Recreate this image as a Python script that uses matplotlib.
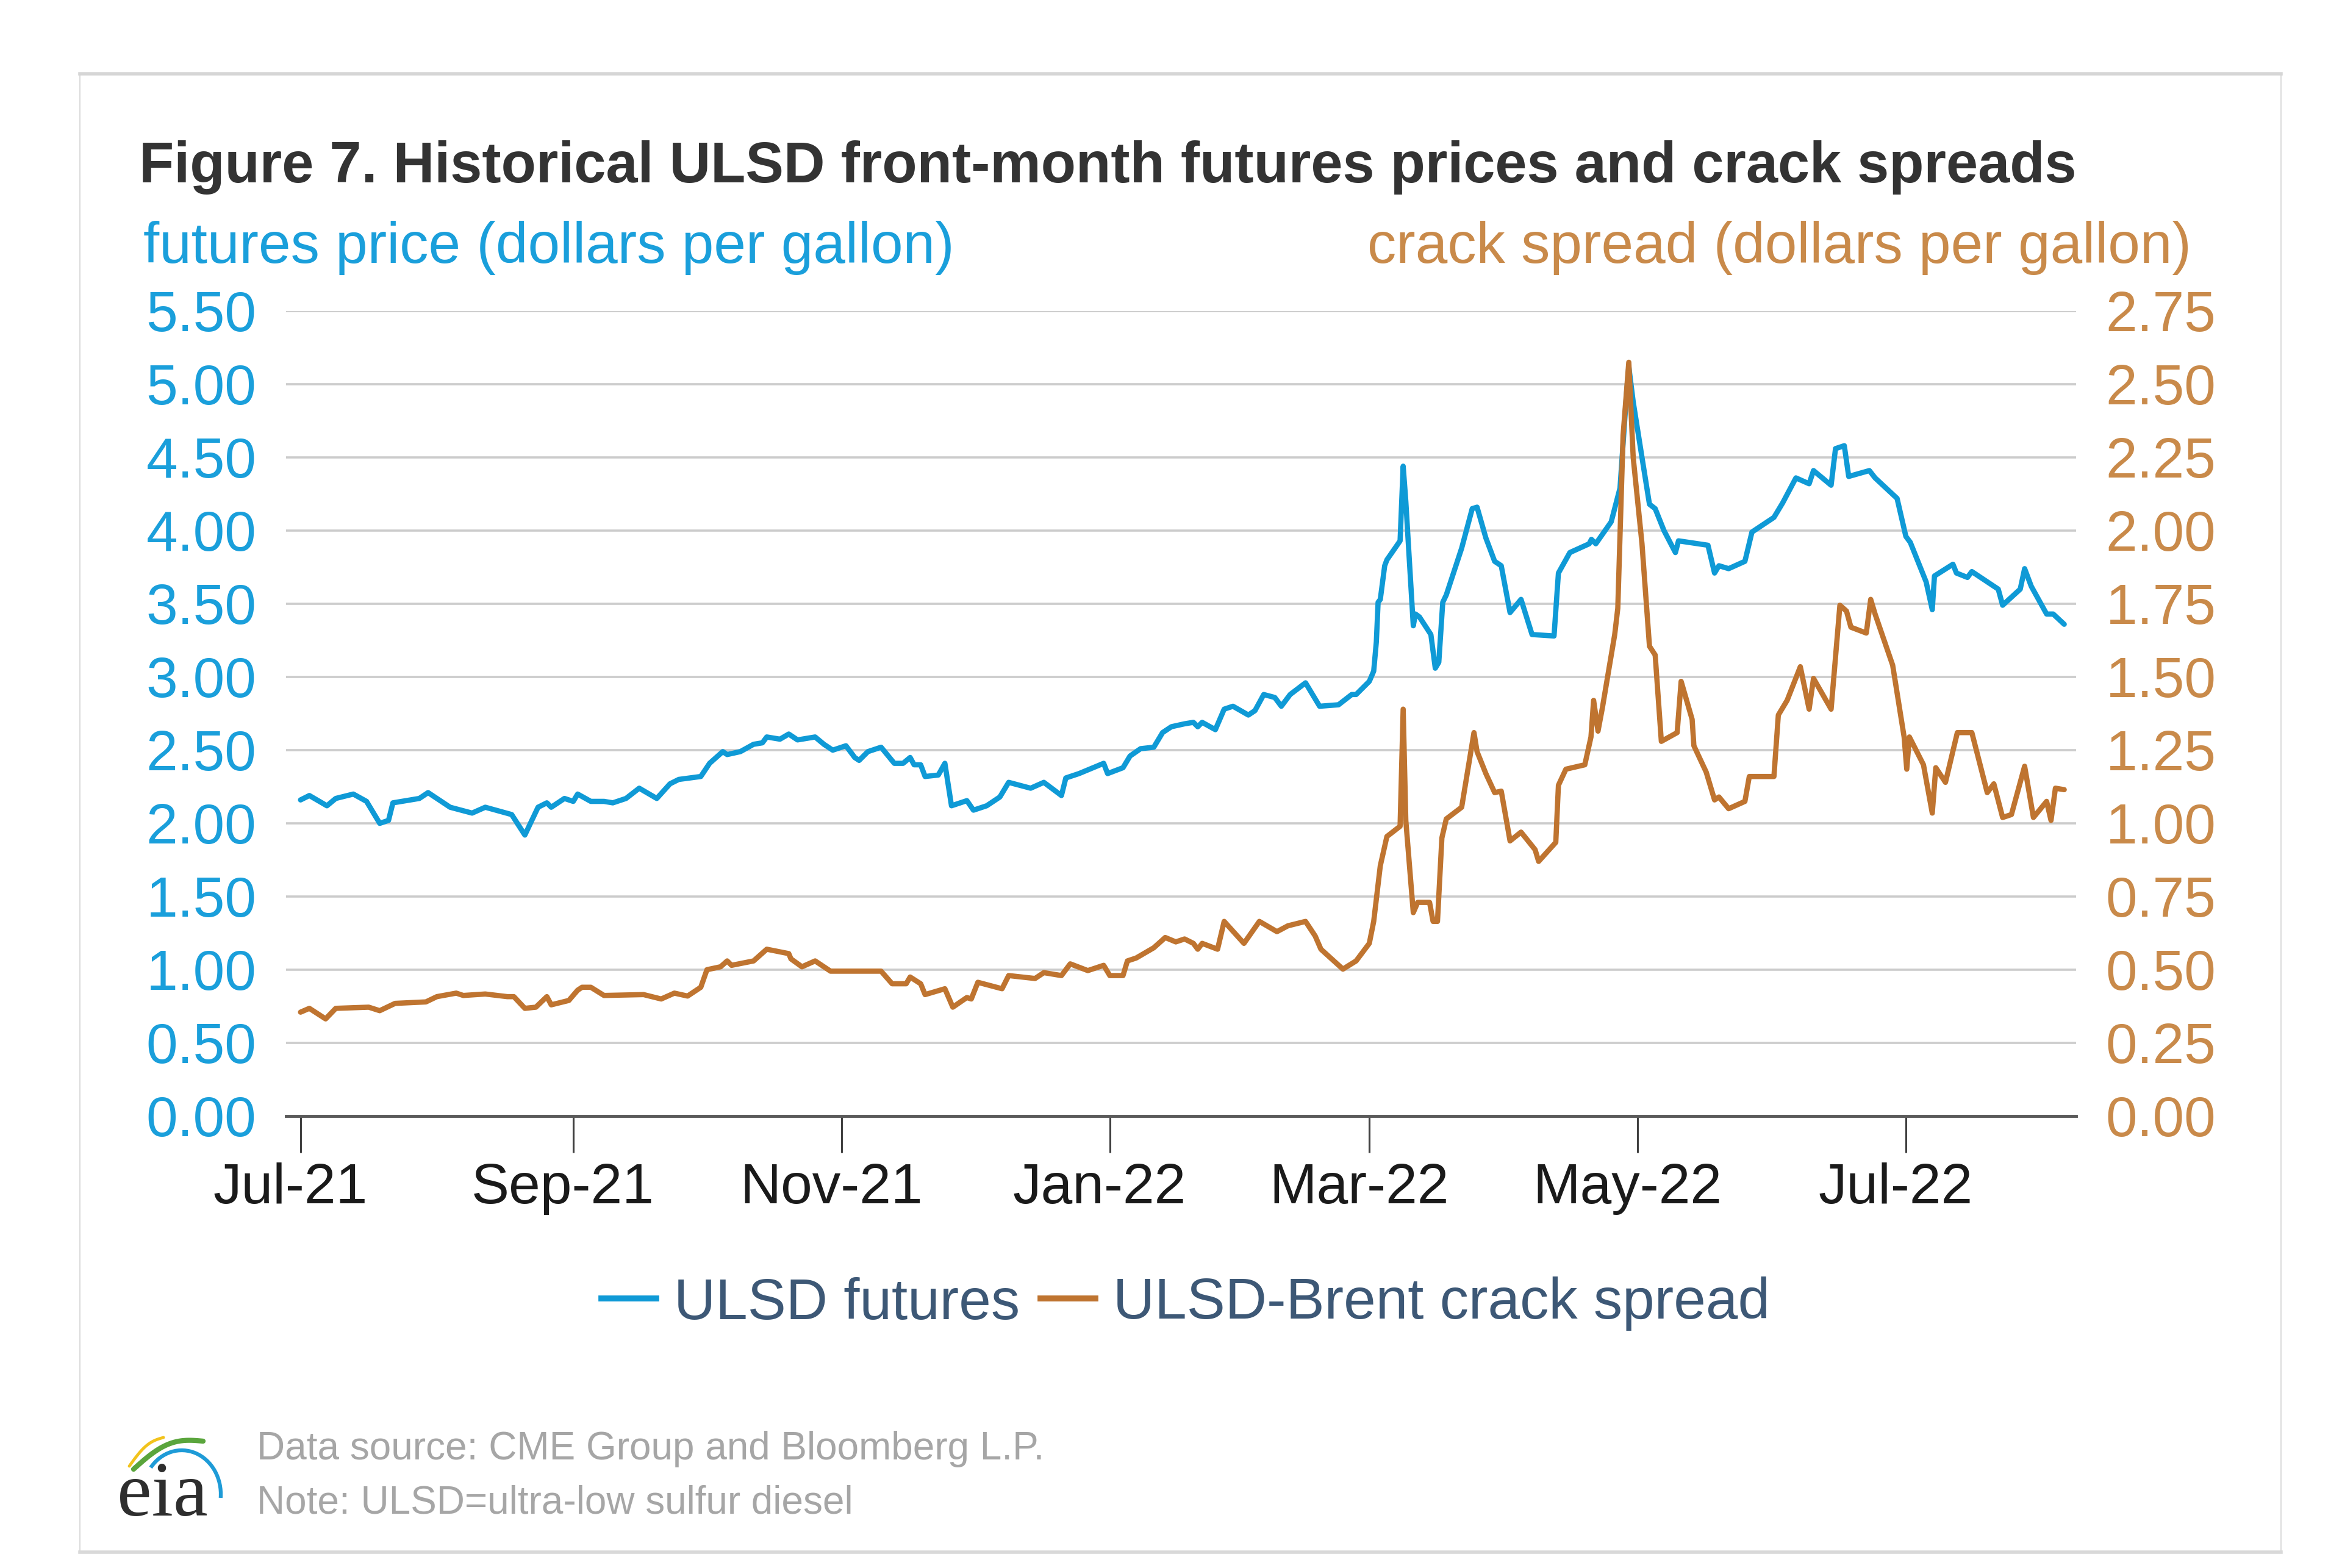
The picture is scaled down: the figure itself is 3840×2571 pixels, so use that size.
import matplotlib
matplotlib.use("Agg")
import matplotlib.pyplot as plt
import matplotlib.dates as mdates
import matplotlib.transforms as mtransforms
from matplotlib.patches import Rectangle, Arc
from matplotlib.lines import Line2D
import pandas as pd
import numpy as np

plt.rcParams['font.family'] = ['Liberation Sans', 'DejaVu Sans']

# ---------------- data ----------------
base_date = "2021-07-01"
futures_days = [0, 2, 6, 8, 12, 15, 18, 20, 21, 27, 29, 34, 39, 42, 48, 51, 54, 56, 57, 60,
                62, 63, 66, 69, 71, 74, 77, 81, 84, 86, 91, 93, 96, 97, 100, 103, 105, 106, 109, 111,
                113, 117, 119, 121, 124, 126, 127, 129, 132, 135, 137, 138.6, 139.5, 141, 142, 145, 146.5, 148, 151.5, 153,
                156, 159, 161, 166, 169, 173, 174, 177, 182.6, 183.5, 187, 188.6, 191, 194, 196, 198, 201, 203, 204, 205,
                208, 210, 212, 215.5, 217, 219, 221.5, 223, 225, 228.5, 231.7, 236, 239, 240, 243, 244, 244.6, 245, 245.5, 246.5,
                247, 250, 250.7, 251.3, 253, 253.5, 254.4, 257, 258, 258.8, 259.7, 260.5, 264, 266.4, 267.5, 269.5, 271.5, 273, 275, 277.5,
                280, 285, 286, 288.6, 293, 293.5, 294.5, 298, 300, 301.5, 302, 303, 305, 306.7, 308, 310, 312.6, 313.3, 320, 321.5,
                322.5, 324.7, 328.4, 330, 335, 337, 340, 343, 344, 348, 349, 351, 352, 356.7, 358, 363, 365, 366, 369.6, 371,
                371.5, 375.7, 376.5, 379, 380, 386, 387, 391, 392, 393.5, 397, 398.5, 401]
futures_price = [2.16, 2.19, 2.12, 2.17, 2.20, 2.15, 2.00, 2.02, 2.14, 2.17, 2.21, 2.11, 2.07, 2.11, 2.06, 1.92, 2.11, 2.14, 2.11, 2.17,
                 2.15, 2.20, 2.15, 2.15, 2.14, 2.17, 2.24, 2.17, 2.27, 2.30, 2.32, 2.41, 2.49, 2.47, 2.49, 2.54, 2.55, 2.59, 2.575, 2.61,
                 2.57, 2.59, 2.54, 2.50, 2.53, 2.45, 2.43, 2.49, 2.52, 2.41, 2.41, 2.45, 2.40, 2.40, 2.32, 2.33, 2.41, 2.12, 2.155, 2.09,
                 2.12, 2.18, 2.28, 2.24, 2.28, 2.19, 2.31, 2.34, 2.41, 2.34, 2.38, 2.46, 2.51, 2.52, 2.62, 2.66, 2.68, 2.69, 2.66, 2.69,
                 2.64, 2.78, 2.80, 2.74, 2.77, 2.88, 2.86, 2.80, 2.88, 2.96, 2.80, 2.81, 2.88, 2.88, 2.97, 3.04, 3.24, 3.51, 3.53, 3.76,
                 3.80, 3.93, 4.44, 4.20, 3.35, 3.43, 3.41, 3.29, 3.06, 3.10, 3.51, 3.56, 3.88, 4.15, 4.16, 3.95, 3.79, 3.76, 3.44, 3.53,
                 3.29, 3.28, 3.71, 3.85, 3.91, 3.94, 3.91, 4.06, 4.29, 4.94, 5.12, 4.88, 4.50, 4.18, 4.15, 4.00, 3.85, 3.93, 3.90, 3.71,
                 3.76, 3.74, 3.79, 3.99, 4.09, 4.19, 4.36, 4.32, 4.41, 4.31, 4.56, 4.58, 4.37, 4.41, 4.36, 4.22, 3.96, 3.92, 3.65, 3.46,
                 3.69, 3.77, 3.71, 3.68, 3.72, 3.60, 3.49, 3.60, 3.74, 3.62, 3.43, 3.43, 3.36]

crack_days = [0, 2, 5.7, 8, 15.5, 18, 21.5, 28.5, 31, 35.4, 37, 42, 47, 48.5, 51, 53.5, 56, 57, 61, 63,
              64, 66, 69, 78, 82, 85, 88, 91, 92.4, 95.5, 97, 98, 103, 106, 111, 111.5, 114, 117, 120.5, 132,
              134.5, 137.7, 138.6, 141, 142, 146.5, 148.3, 151.5, 152.5, 154, 159.5, 161, 167, 169, 173, 175, 179, 182.6, 184, 187,
              188, 190, 194, 196.6, 199, 201, 203, 204, 205, 208.5, 210, 214.5, 218, 222, 224.5, 228.5, 230.7, 232, 237, 240,
              243, 244, 245.5, 247, 250, 250.7, 251.3, 253, 254, 256.7, 257.5, 258.5, 259.5, 260.5, 264, 266.8, 267.5, 269.5, 271.5, 273,
              275, 277.5, 280.7, 281.5, 285.4, 286, 287.7, 292, 293.4, 294, 295, 296, 298.8, 299.5, 300.7, 302, 303, 305, 306.7, 308,
              309.4, 313, 313.9, 316.4, 316.8, 319.6, 321.5, 322.5, 324.7, 328.4, 329.4, 335, 336, 338, 341, 343, 344, 348, 350, 351.5,
              352.5, 356, 357, 358, 362, 364.6, 365.2, 365.8, 369, 371, 371.8, 374, 376.7, 380, 383.5, 385, 387, 389, 392, 394,
              397, 398, 399, 401]
crack_spread = [0.355, 0.368, 0.332, 0.368, 0.372, 0.36, 0.385, 0.39, 0.408, 0.42, 0.412, 0.417, 0.408, 0.408, 0.368, 0.372, 0.408, 0.38, 0.395, 0.43,
                0.44, 0.44, 0.412, 0.415, 0.40, 0.42, 0.41, 0.44, 0.50, 0.51, 0.53, 0.515, 0.53, 0.57, 0.555, 0.537, 0.51, 0.53, 0.495, 0.495,
                0.452, 0.452, 0.475, 0.452, 0.415, 0.435, 0.372, 0.405, 0.40, 0.457, 0.435, 0.48, 0.47, 0.49, 0.48, 0.52, 0.497, 0.515, 0.48, 0.48,
                0.53, 0.54, 0.575, 0.61, 0.595, 0.605, 0.59, 0.57, 0.59, 0.57, 0.665, 0.59, 0.665, 0.63, 0.65, 0.665, 0.615, 0.57, 0.502, 0.53,
                0.59, 0.665, 0.855, 0.955, 0.99, 1.39, 1.01, 0.695, 0.73, 0.73, 0.665, 0.665, 0.95, 1.015, 1.055, 1.31, 1.245, 1.17, 1.105, 1.11,
                0.94, 0.97, 0.91, 0.87, 0.935, 1.13, 1.185, 1.20, 1.295, 1.42, 1.315, 1.395, 1.645, 1.735, 2.325, 2.575, 2.25, 1.955, 1.605, 1.575,
                1.28, 1.31, 1.485, 1.355, 1.265, 1.175, 1.08, 1.09, 1.05, 1.075, 1.16, 1.16, 1.37, 1.42, 1.535, 1.39, 1.495, 1.39, 1.745, 1.725,
                1.67, 1.65, 1.765, 1.715, 1.54, 1.295, 1.185, 1.295, 1.20, 1.035, 1.19, 1.14, 1.31, 1.31, 1.105, 1.135, 1.02, 1.03, 1.195, 1.02,
                1.075, 1.01, 1.12, 1.115]

x_tick_dates = ["2021-07-01", "2021-09-01", "2021-11-01", "2022-01-01", "2022-03-01", "2022-05-01", "2022-07-01"]
left_ticks = [0.0, 0.5, 1.0, 1.5, 2.0, 2.5, 3.0, 3.5, 4.0, 4.5, 5.0, 5.5]
right_ticks = [0.0, 0.25, 0.5, 0.75, 1.0, 1.25, 1.5, 1.75, 2.0, 2.25, 2.5, 2.75]

title = "Figure 7. Historical ULSD front-month futures prices and crack spreads"
left_label = "futures price (dollars per gallon)"
right_label = "crack spread (dollars per gallon)"
series_names = ["ULSD futures", "ULSD-Brent crack spread"]
source_note = "Data source: CME Group and Bloomberg L.P."
note = "Note: ULSD=ultra-low sulfur diesel"

# ---------------- styling ----------------
BLUE = "#0f9ad6"
BLUE_TXT = "#1a9fdb"
ORANGE = "#bf7430"
ORANGE_TXT = "#c98a4a"
GRID = "#cccccc"
LEG_TXT = "#3d5876"
W, H = 3840, 2571

fig = plt.figure(figsize=(W / 100, H / 100), dpi=100)
fig.patch.set_facecolor("white")

def fx(px):
    return px / W

def fy(py):
    return 1 - py / H

# Outer box
fig.patches.append(Rectangle((fx(131), fy(2546)), fx(3740) - fx(131), fy(121) - fy(2546),
                             transform=fig.transFigure, fill=False, edgecolor="#dcdcdc", linewidth=1.5))
fig.add_artist(Line2D([fx(131), fx(3740)], [fy(121), fy(121)], transform=fig.transFigure,
                      color="#d6d6d6", linewidth=4))
fig.add_artist(Line2D([fx(131), fx(3740)], [fy(2545), fy(2545)], transform=fig.transFigure,
                      color="#d9d9d9", linewidth=4))

ax = fig.add_axes([fx(469), fy(1830), fx(3404) - fx(469), fy(510) - fy(1830)])
ax2 = ax.twinx()

base = pd.Timestamp(base_date)
f_dates = base + pd.to_timedelta(np.array(futures_days), unit="D")
c_dates = base + pd.to_timedelta(np.array(crack_days), unit="D")

ax.plot(f_dates, futures_price, color=BLUE, linewidth=6.2, solid_joinstyle="round",
        solid_capstyle="round", zorder=3)
ax2.plot(c_dates, crack_spread, color=ORANGE, linewidth=6.2, solid_joinstyle="round",
         solid_capstyle="round", zorder=3)

ax.set_xlim(base - pd.Timedelta(days=3.3), base + pd.Timedelta(days=403.7))
ax.set_ylim(0, 5.5)
ax2.set_ylim(0, 2.75)

ax.set_yticks(left_ticks)
ax.set_yticklabels([f"{v:.2f}" for v in left_ticks])
ax2.set_yticks(right_ticks)
ax2.set_yticklabels([f"{v:.2f}" for v in right_ticks])

ax.tick_params(axis="y", length=0, pad=35, labelsize=67, labelcolor=BLUE_TXT)
ax2.tick_params(axis="y", length=0, pad=35, labelsize=67, labelcolor=ORANGE_TXT)

ax.set_xticks(pd.to_datetime(x_tick_dates))
ax.xaxis.set_major_formatter(mdates.DateFormatter("%b-%y"))
ax.tick_params(axis="x", direction="out", length=43, width=2.2, color="#404040",
               pad=12, labelsize=67, labelcolor="#1a1a1a")
offset = mtransforms.ScaledTranslation(-17 / 100, 0, fig.dpi_scale_trans)
for lab in ax.get_xticklabels():
    lab.set_transform(lab.get_transform() + offset)

for a in (ax, ax2):
    for s in ("top", "left", "right", "bottom"):
        a.spines[s].set_visible(False)
    a.patch.set_visible(False)
ax.spines["bottom"].set_visible(True)
ax.spines["bottom"].set_color("#5a5a5a")
ax.spines["bottom"].set_linewidth(3.5)
ax.spines["bottom"].set_zorder(5)

ax.yaxis.grid(True, color=GRID, linewidth=2.6, zorder=0)
ax.set_axisbelow(True)

# Titles and axis labels
fig.text(fx(228), fy(299), title, fontsize=67.5, fontweight="bold", color="#333333",
         ha="left", va="baseline")
fig.text(fx(235), fy(431), left_label, fontsize=68, color=BLUE_TXT, ha="left", va="baseline")
fig.text(fx(3593), fy(431), right_label, fontsize=68, color=ORANGE_TXT, ha="right", va="baseline")

# Legend
handles = [Line2D([], [], color=BLUE, linewidth=7), Line2D([], [], color=ORANGE, linewidth=7)]
leg = fig.legend(handles, series_names, loc="center", bbox_to_anchor=(fx(1944), fy(2138)),
                 ncol=2, frameon=False, fontsize=68, handlelength=0.95, handletextpad=0.31,
                 columnspacing=0.36, borderpad=0, borderaxespad=0)
for t in leg.get_texts():
    t.set_color(LEG_TXT)

# Footer
fig.text(fx(421), fy(2393), source_note, fontsize=46, color="#a6a6a6", ha="left", va="baseline")
fig.text(fx(421), fy(2482), note, fontsize=46, color="#a6a6a6", ha="left", va="baseline")

# eia logo
fig.text(fx(192), fy(2485), "eia", fontsize=92, color="#2e2e2e", ha="left", va="baseline",
         family=["Liberation Serif", "DejaVu Serif"])
fig.patches.append(Arc((fx(298), fy(2450)), fx(128), 144 / H, theta1=-8, theta2=128,
                       transform=fig.transFigure, color="#1e9bd7", linewidth=4.5))
tt = np.linspace(0, 1, 30)
gx = 219 + (333 - 219) * tt
gy = 2409 - 46 * tt - 18 * np.sin(np.pi * tt)
fig.add_artist(Line2D(gx / W, 1 - gy / H, transform=fig.transFigure, color="#5aa53c",
                      linewidth=6, solid_capstyle="round"))
yx = 212 + (268 - 212) * tt
yy = 2404 - 47 * tt - 10 * np.sin(np.pi * tt)
fig.add_artist(Line2D(yx / W, 1 - yy / H, transform=fig.transFigure, color="#f2c31c",
                      linewidth=3.5, solid_capstyle="round"))

fig.savefig("out.png", dpi=100, facecolor="white")
